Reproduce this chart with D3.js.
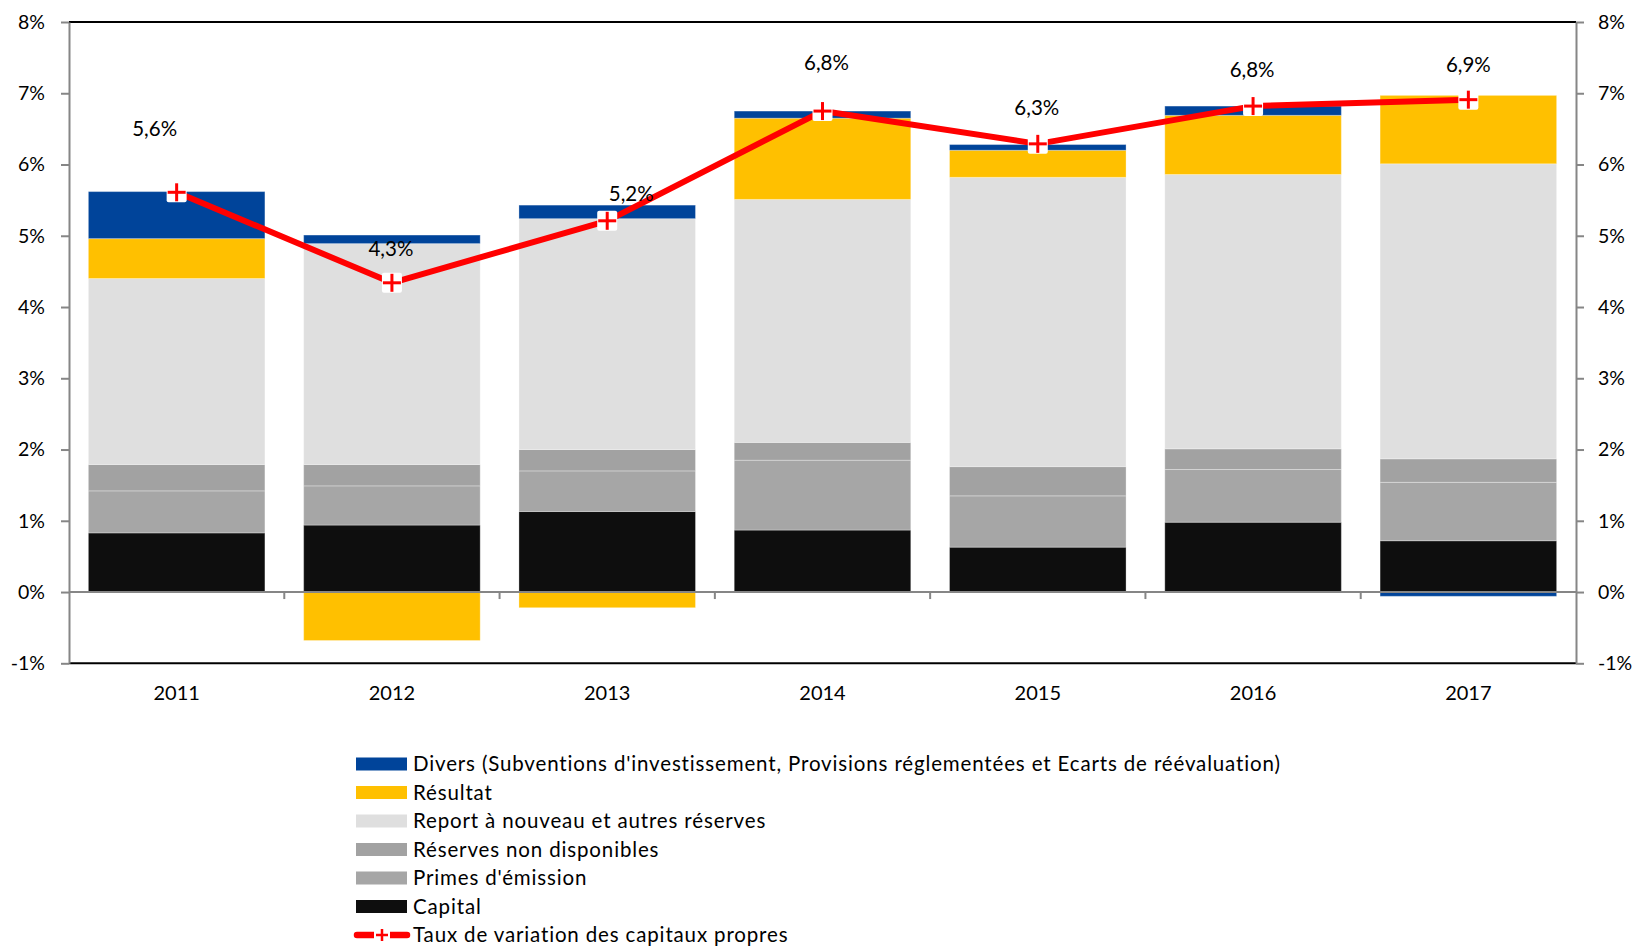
<!DOCTYPE html>
<html>
<head>
<meta charset="utf-8">
<script src="https://cdn.jsdelivr.net/npm/d3@7"></script>
<style>
  html, body { margin: 0; padding: 0; background: #fff; }
  svg { display: block; font-family: Lato, "Open Sans", sans-serif; }
</style>
</head>
<body>
<svg id="chart" width="1638" height="946"></svg>
<script>
// ---- Data ----
const years = ["2011", "2012", "2013", "2014", "2015", "2016", "2017"];
const capital   = [0.83, 0.94, 1.13, 0.87, 0.63, 0.98, 0.72];
const primes    = [0.59, 0.55, 0.57, 0.98, 0.72, 0.74, 0.82];
const reserves  = [0.37, 0.30, 0.30, 0.25, 0.41, 0.29, 0.33];
const report    = [2.61, 3.10, 3.24, 3.41, 4.06, 3.85, 4.14];
const resultat  = [0.56, -0.68, -0.22, 1.14, 0.38, 0.83, 0.96];
const divers    = [0.66, 0.12, 0.19, 0.10, 0.08, 0.13, -0.06];
const taux      = [5.61, 4.34, 5.21, 6.75, 6.29, 6.82, 6.91];
const yTicks    = [-1, 0, 1, 2, 3, 4, 5, 6, 7, 8];

const seriesNames = [
  "Capital",
  "Primes d'émission",
  "Réserves non disponibles",
  "Report à nouveau et autres réserves",
  "Résultat",
  "Divers (Subventions d'investissement, Provisions réglementées et Ecarts de réévaluation)"
];
const lineName = "Taux de variation des capitaux propres";

// ---- Styling / layout (not data) ----
const colors = ["#0e0e0e", "#a6a6a6", "#a2a2a2", "#dfdfdf", "#ffc000", "#00449a"];
const labelOffsets = [[-22, -63], [-1, -34], [24, -27], [4, -48], [-1, -36], [-1, -36], [0, -35]];
const pLeft = 69, pRight = 1576, pTop = 22, pBottom = 663.3;

const svg = d3.select("#chart");

const seriesValues = [capital, primes, reserves, report, resultat, divers];
const table = years.map((yr, i) => {
  const row = { year: yr };
  seriesNames.forEach((n, k) => row[n] = seriesValues[k][i]);
  return row;
});

const x = d3.scaleBand().domain(years).range([pLeft, pRight]).paddingInner(0.18).paddingOuter(0.09);
const y = d3.scaleLinear().domain([-1, 8]).range([pBottom, pTop]);

const stack = d3.stack().keys(seriesNames).offset(d3.stackOffsetDiverging).order(d3.stackOrderNone);
const stacked = stack(table);

// bars
const gBars = svg.append("g");
stacked.forEach((s, k) => {
  gBars.append("g").attr("fill", colors[k])
    .selectAll("rect").data(s).join("rect")
    .attr("x", d => x(d.data.year))
    .attr("width", x.bandwidth())
    .attr("y", d => y(Math.max(d[0], d[1])))
    .attr("height", d => Math.abs(y(d[0]) - y(d[1])))
    .attr("stroke", "rgba(255,255,255,0.3)")
    .attr("stroke-width", 1);
});

// zero line with category boundary ticks
const zeroY = y(0);
svg.append("line").attr("x1", pLeft).attr("x2", pRight).attr("y1", zeroY).attr("y2", zeroY)
  .attr("stroke", "#868686").attr("stroke-width", 2);
const boundaries = d3.range(1, years.length).map(i => pLeft + x.step() * i);
svg.append("g").selectAll("line").data(boundaries).join("line")
  .attr("x1", d => d).attr("x2", d => d).attr("y1", zeroY).attr("y2", zeroY + 7)
  .attr("stroke", "#868686").attr("stroke-width", 2);

// plot border top / bottom
svg.append("line").attr("x1", pLeft).attr("x2", pRight).attr("y1", pTop).attr("y2", pTop)
  .attr("stroke", "#000").attr("stroke-width", 2);
svg.append("line").attr("x1", pLeft).attr("x2", pRight).attr("y1", pBottom).attr("y2", pBottom)
  .attr("stroke", "#000").attr("stroke-width", 2);

// y axes
const fmt = d => d + "%";
function styleAxis(g) {
  g.select(".domain").attr("stroke", "#868686").attr("stroke-width", 2);
  g.selectAll(".tick line").attr("stroke", "#868686").attr("stroke-width", 2);
  g.selectAll(".tick text").attr("fill", "#000").style("font-size", "19.5px").style("font-family", "Lato, sans-serif");
}
svg.append("g").attr("transform", `translate(${pLeft},0)`)
  .call(d3.axisLeft(y).tickValues(yTicks).tickFormat(fmt).tickSize(8).tickPadding(16).tickSizeOuter(0))
  .call(styleAxis);
svg.append("g").attr("transform", `translate(${pRight},0)`)
  .call(d3.axisRight(y).tickValues(yTicks).tickFormat(fmt).tickSize(8).tickPadding(14).tickSizeOuter(0))
  .call(styleAxis);

// x labels
const gx = svg.append("g").attr("transform", `translate(0,${pBottom})`)
  .call(d3.axisBottom(x).tickSize(0).tickPadding(23));
gx.select(".domain").remove();
gx.selectAll(".tick text").attr("fill", "#000").style("font-size", "20px").style("font-family", "Lato, sans-serif");

// line
const cx = i => x(years[i]) + x.bandwidth() / 2;
const line = d3.line().x((d, i) => cx(i)).y(d => y(d));
svg.append("path").datum(taux).attr("d", line)
  .attr("fill", "none").attr("stroke", "#ff0000").attr("stroke-width", 6).attr("stroke-linejoin", "round");

// markers
function drawPlus(g, size, stroke) {
  g.append("line").attr("x1", -size / 2).attr("x2", size / 2).attr("y1", 0).attr("y2", 0)
    .attr("stroke", "#ff0000").attr("stroke-width", stroke);
  g.append("line").attr("y1", -size / 2).attr("y2", size / 2).attr("x1", 0).attr("x2", 0)
    .attr("stroke", "#ff0000").attr("stroke-width", stroke);
}
taux.forEach((v, i) => {
  const g = svg.append("g").attr("transform", `translate(${cx(i)},${y(v)})`);
  g.append("rect").attr("x", -10).attr("y", -10).attr("width", 20).attr("height", 20).attr("rx", 2).attr("fill", "#fff");
  drawPlus(g, 18, 3);
});

// data labels
svg.append("g").selectAll("text").data(taux).join("text")
  .attr("x", (d, i) => cx(i) + labelOffsets[i][0])
  .attr("y", (d, i) => y(d) + labelOffsets[i][1])
  .attr("dy", "0.35em")
  .attr("text-anchor", "middle")
  .style("font-size", "20.5px")
  .attr("fill", "#000")
  .text(d => d.toFixed(1).replace(".", ",") + "%");

// legend
const legendX = 356, legendY0 = 764, legendStep = 28.5, legendTextX = 413;
const legendFont = "20.5px", legendSpacing = "0.85px";
const legendItems = seriesNames.map((n, k) => ({ name: n, color: colors[k] })).reverse();
const lg = svg.append("g");
legendItems.forEach((it, j) => {
  const yy = legendY0 + j * legendStep;
  lg.append("rect").attr("x", legendX).attr("y", yy - 6.5).attr("width", 51).attr("height", 13).attr("fill", it.color);
  lg.append("text").attr("x", legendTextX).attr("y", yy).attr("dy", "0.35em")
    .style("font-size", legendFont).style("letter-spacing", legendSpacing).attr("fill", "#000").text(it.name);
});
{
  const yy = legendY0 + legendItems.length * legendStep;
  lg.append("line").attr("x1", 357).attr("x2", 407).attr("y1", yy).attr("y2", yy)
    .attr("stroke", "#ff0000").attr("stroke-width", 6.5).attr("stroke-linecap", "round");
  const g = lg.append("g").attr("transform", `translate(382,${yy})`);
  g.append("rect").attr("x", -8).attr("y", -8).attr("width", 16).attr("height", 16).attr("fill", "#fff");
  drawPlus(g, 12, 2.5);
  lg.append("text").attr("x", legendTextX).attr("y", yy).attr("dy", "0.35em")
    .style("font-size", legendFont).style("letter-spacing", legendSpacing).attr("fill", "#000").text(lineName);
}
</script>
</body>
</html>
